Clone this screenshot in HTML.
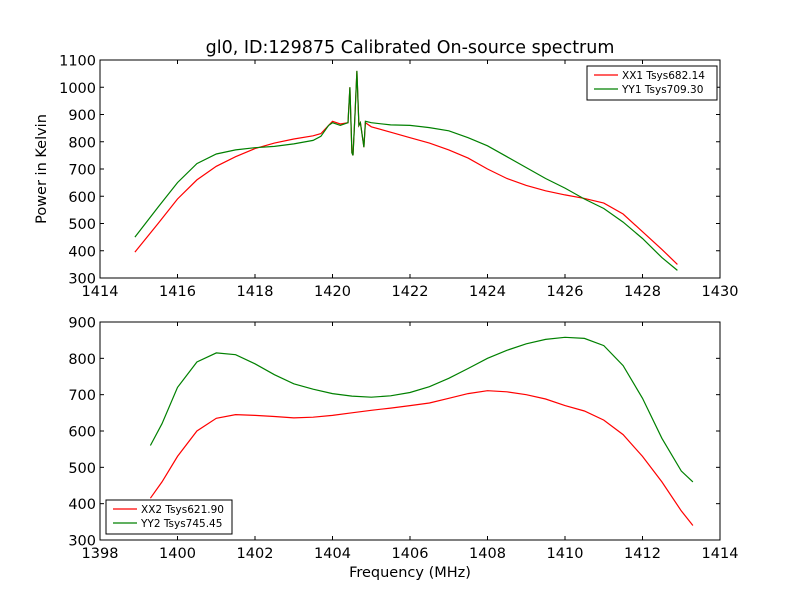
<!DOCTYPE html>
<html><head><meta charset="utf-8"><style>
body{margin:0;background:#fff;}
svg text{font-family:"DejaVu Sans","Liberation Sans",sans-serif;}
</style></head><body>
<svg id="c" width="800" height="600" xmlns="http://www.w3.org/2000/svg"></svg>
<script>
const topFreqXX = [1414.9,1415.5,1416,1416.5,1417,1417.5,1418,1418.5,1419,1419.5,1419.7,1419.9,1420.0,1420.2,1420.4,1420.45,1420.5,1420.53,1420.58,1420.63,1420.68,1420.72,1420.81,1420.85,1421,1421.5,1422,1422.5,1423,1423.5,1424,1424.5,1425,1425.5,1426,1426.5,1427,1427.5,1428,1428.5,1428.9];
const topXX1 = [395,500,590,660,710,745,775,795,810,822,830,860,875,865,870,1000,760,750,900,1060,860,870,780,870,855,835,815,795,770,740,700,665,640,620,605,592,575,535,470,405,350];
const topYY1 = [450,560,650,720,755,770,778,783,792,805,820,860,870,860,870,1000,760,750,900,1060,860,870,780,875,870,862,860,852,840,815,785,745,705,665,630,590,555,505,445,375,328];
const botFreq = [1399.3,1399.6,1400,1400.5,1401,1401.5,1402,1402.5,1403,1403.5,1404,1404.5,1405,1405.5,1406,1406.5,1407,1407.5,1408,1408.5,1409,1409.5,1410,1410.5,1411,1411.5,1412,1412.5,1413,1413.3];
const botXX2 = [415,460,530,600,635,645,643,640,636,638,643,650,657,663,670,677,690,703,711,708,700,688,670,655,630,590,530,460,380,340];
const botYY2 = [560,620,720,790,815,810,785,755,730,715,703,696,693,697,706,722,745,772,800,822,840,852,858,855,835,780,690,580,490,460];
const topXTicks = [1414,1416,1418,1420,1422,1424,1426,1428,1430];
const topYTicks = [300,400,500,600,700,800,900,1000,1100];
const botXTicks = [1398,1400,1402,1404,1406,1408,1410,1412,1414];
const botYTicks = [300,400,500,600,700,800,900];

const svg = document.getElementById('c');
const NS = 'http://www.w3.org/2000/svg';
function mk(tag, attrs, parent){const e=document.createElementNS(NS,tag);for(const k in attrs)e.setAttribute(k,attrs[k]);(parent||svg).appendChild(e);return e;}

function panel(name, top, xmin, xmax, ymin, ymax, xt, yt, series, legend){
  const L=100,R=720,T=top,B=top+218;
  const g=mk('g',{});
  
  
  const sx=v=>L+(v-xmin)/(xmax-xmin)*(R-L);
  const sy=v=>B-(v-ymin)/(ymax-ymin)*(B-T);
  series.forEach(s=>{
    const pts=s.x.map((f,i)=>sx(f).toFixed(1)+','+sy(s.y[i]).toFixed(1)).join(' ');
    const p=mk('polyline',{points:pts,fill:'none',stroke:s.color,'stroke-width':1.2},g);
    
    
  });
  mk('rect',{x:L,y:T,width:R-L,height:B-T,fill:'none',stroke:'#000','stroke-width':1},g);
  xt.forEach(v=>{const x=sx(v);
    mk('line',{x1:x,y1:B,x2:x,y2:B-4,stroke:'#000'},g);
    mk('line',{x1:x,y1:T,x2:x,y2:T+4,stroke:'#000'},g);
    const t=mk('text',{x:x,y:B+18,'text-anchor':'middle','font-size':14.5},g);t.textContent=v;
    
    
  });
  yt.forEach(v=>{const y=sy(v);
    mk('line',{x1:L,y1:y,x2:L+4,y2:y,stroke:'#000'},g);
    mk('line',{x1:R,y1:y,x2:R-4,y2:y,stroke:'#000'},g);
    const t=mk('text',{x:L-4,y:y+5.5,'text-anchor':'end','font-size':14.5},g);t.textContent=v;
    
    
  });
  const lg=mk('g',{},g);
  
  
  mk('rect',{x:legend.x,y:legend.y,width:legend.w,height:34,fill:'#fff',stroke:'#000'},lg);
  series.forEach((s,i)=>{const yy=legend.y+9+i*14;
    mk('line',{x1:legend.x+7,y1:yy,x2:legend.x+31,y2:yy,stroke:s.color,'stroke-width':1.2},lg);
    const t=mk('text',{x:legend.x+35,y:yy+4,'font-size':10.5},lg);t.textContent=s.label;
    
    
  });
}
panel('top-panel',60,1414,1430,300,1100,topXTicks,topYTicks,[
  {x:topFreqXX,y:topXX1,color:'#ff0000',name:'xx1-line',label:'XX1 Tsys682.14'},
  {x:topFreqXX,y:topYY1,color:'#008000',name:'yy1-line',label:'YY1 Tsys709.30'}],{x:587,y:66,w:130});
panel('bottom-panel',322,1398,1414,300,900,botXTicks,botYTicks,[
  {x:botFreq,y:botXX2,color:'#ff0000',name:'xx2-line',label:'XX2 Tsys621.90'},
  {x:botFreq,y:botYY2,color:'#008000',name:'yy2-line',label:'YY2 Tsys745.45'}],{x:106,y:500,w:126});

let t=mk('text',{x:410,y:53,'text-anchor':'middle','font-size':17.5});t.textContent='gl0, ID:129875 Calibrated On-source spectrum';


t=mk('text',{x:410,y:577,'text-anchor':'middle','font-size':14.5});t.textContent='Frequency (MHz)';


t=mk('text',{x:46,y:169,'text-anchor':'middle','font-size':14.5,transform:'rotate(-90 46 169)'});t.textContent='Power in Kelvin';


</script>
</body></html>
